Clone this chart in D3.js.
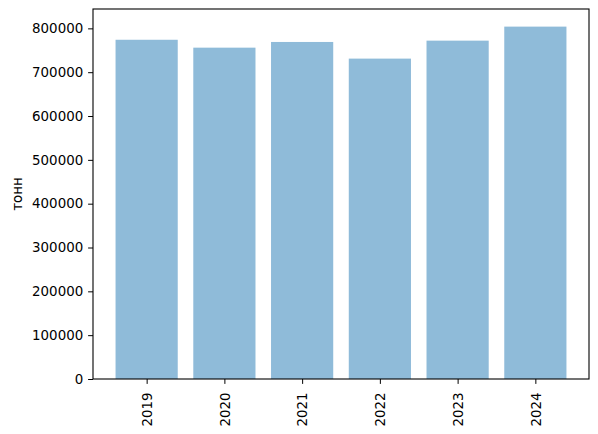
<!DOCTYPE html>
<html>
<head>
<meta charset="utf-8">
<script src="https://cdn.jsdelivr.net/npm/d3@7"></script>
<style>
  body { margin: 0; background: #fff; }
  text { font-family: "DejaVu Sans", sans-serif; }
</style>
</head>
<body>
<svg id="chart" width="598" height="434"></svg>
<script>
// data
const years = ['2019', '2020', '2021', '2022', '2023', '2024'];
const tonnes = [774000, 756000, 769000, 731000, 772000, 804000];
const yTicks = [0, 100000, 200000, 300000, 400000, 500000, 600000, 700000, 800000];

const margin = {left: 93, right: 589, top: 9, bottom: 379};
const barWidth = 0.8;

const svg = d3.select('#chart');

// matplotlib-like limits: bars span -0.4..5.4, plus 5% margins
const span = (years.length - 1) + barWidth;
const x = d3.scaleLinear()
  .domain([-barWidth / 2 - span * 0.05, years.length - 1 + barWidth / 2 + span * 0.05])
  .range([margin.left, margin.right]);

const y = d3.scaleLinear()
  .domain([0, d3.max(tonnes) * 1.05])
  .range([margin.bottom, margin.top]);

// bars
svg.selectAll('rect.bar')
  .data(tonnes)
  .enter()
  .append('rect')
    .attr('class', 'bar')
    .attr('x', (d, i) => x(i - barWidth / 2))
    .attr('width', (d, i) => x(i + barWidth / 2) - x(i - barWidth / 2))
    .attr('y', d => y(d))
    .attr('height', d => y(0) - y(d))
    .attr('fill', '#8fbbd9');

// y axis
const yAxis = svg.append('g')
  .attr('transform', `translate(${margin.left},0)`)
  .call(d3.axisLeft(y).tickValues(yTicks).tickFormat(d3.format('d')).tickSize(4.9).tickPadding(4.9));

// x axis
const xAxis = svg.append('g')
  .attr('transform', `translate(0,${margin.bottom})`)
  .call(d3.axisBottom(x).tickValues(d3.range(years.length)).tickFormat(i => years[i]).tickSize(4.9).tickPadding(4.9));

xAxis.selectAll('text')
  .attr('transform', 'rotate(-90)')
  .attr('text-anchor', 'end')
  .attr('x', -13.5)
  .attr('y', 0)
  .attr('dy', '0.35em');

[yAxis, xAxis].forEach(g => {
  g.select('.domain').remove();
  g.selectAll('line').attr('stroke', '#000').attr('stroke-width', 1);
  g.selectAll('text').attr('fill', '#000').style('font-size', '13.4px');
});

// frame
svg.append('rect')
  .attr('x', margin.left)
  .attr('y', margin.top)
  .attr('width', margin.right - margin.left)
  .attr('height', margin.bottom - margin.top)
  .attr('fill', 'none')
  .attr('stroke', '#000')
  .attr('stroke-width', 1.1);

// y label
svg.append('text')
  .attr('transform', `translate(17,${(margin.top + margin.bottom) / 2}) rotate(-90)`)
  .attr('text-anchor', 'middle')
  .attr('dy', '0.35em')
  .style('font-size', '13.4px')
  .text('тонн');
</script>
</body>
</html>
